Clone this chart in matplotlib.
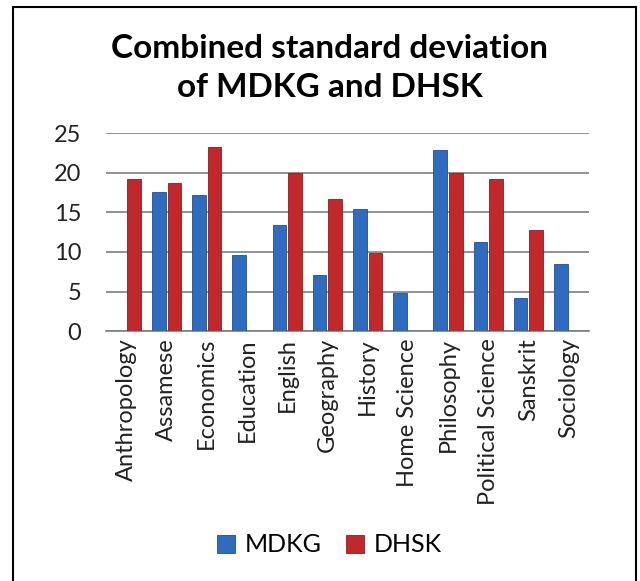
import numpy as np
import matplotlib.pyplot as plt
from matplotlib.patches import Rectangle

subjects = ['Anthropology', 'Assamese', 'Economics', 'Education', 'English', 'Geography',
            'History', 'Home Science', 'Philosophy', 'Political Science', 'Sanskrit', 'Sociology']
mdkg = [0, 17.5, 17.2, 9.6, 13.4, 7.1, 15.4, 4.8, 22.9, 11.3, 4.2, 8.5]
dhsk = [19.2, 18.7, 23.3, 0, 20.0, 16.7, 9.9, 0, 19.9, 19.2, 12.8, 0]

plt.rcParams['font.family'] = ['Lato', 'DejaVu Sans']

fig = plt.figure(figsize=(6.4, 5.81), dpi=100)
ax = fig.add_axes([0.166, 0.430, 0.754, 0.341])

x = np.arange(len(subjects))
w = 0.34
gap = 0.05
ax.bar(x - w/2 - gap/2, mdkg, w, color='#2f6cbf', edgecolor='#1f4f95', linewidth=0.6, label='MDKG', zorder=3)
ax.bar(x + w/2 + gap/2, dhsk, w, color='#c0282b', edgecolor='#8e1b1d', linewidth=0.6, label='DHSK', zorder=3)

ax.set_ylim(0, 25)
ax.set_xlim(-0.5, len(subjects) - 0.5)
ax.set_yticks(range(0, 26, 5))
ax.yaxis.grid(True, color='#7f7f7f', linewidth=1.2, zorder=0)
for s in ['left', 'right', 'top']:
    ax.spines[s].set_visible(False)
ax.spines['bottom'].set_color('#7f7f7f')
ax.spines['bottom'].set_linewidth(1.2)
ax.tick_params(axis='both', length=0, colors='#222222')
ax.tick_params(axis='y', pad=18, labelsize=17)
ax.tick_params(axis='x', pad=5)
ax.set_xticks(x)
ax.set_xticklabels(subjects, rotation=90, fontsize=17)

fig.text(0.515, 1 - 58/581, 'Combined standard deviation', ha='center', va='baseline',
         fontsize=24, fontweight='bold')
fig.text(0.515, 1 - 97/581, 'of MDKG and DHSK', ha='center', va='baseline',
         fontsize=24, fontweight='bold')

fig.legend(loc='center', bbox_to_anchor=(0.515, 1 - 545/581), ncol=2, frameon=False,
           fontsize=18, handlelength=0.7, handleheight=0.7, columnspacing=1.0, handletextpad=0.4)

fig.patches.append(Rectangle((0.0203, -0.02), 0.974, 1.008, transform=fig.transFigure,
                             fill=False, edgecolor='black', linewidth=1.5))

fig.savefig('out.png', dpi=100)
